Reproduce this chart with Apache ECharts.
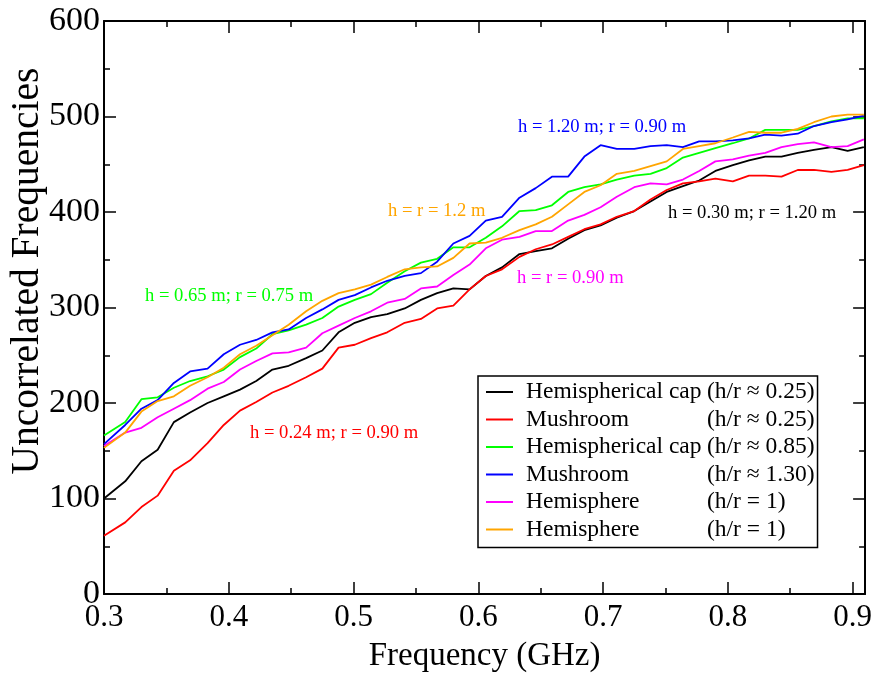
<!DOCTYPE html>
<html><head><meta charset="utf-8">
<script src="https://cdn.jsdelivr.net/npm/echarts@6/dist/echarts.min.js"></script>
<style>html,body{margin:0;padding:0;background:#fff}#c{width:875px;height:678px}</style>
</head><body><div id="c"></div>
<script>
// Frequencies (GHz)
const freq = [0.300,0.317,0.330,0.343,0.356,0.369,0.383,0.396,0.409,0.422,0.435,0.448,0.462,0.475,0.488,0.501,0.514,0.527,0.541,0.554,0.567,0.580,0.593,0.606,0.619,0.633,0.646,0.659,0.672,0.685,0.698,0.711,0.725,0.738,0.751,0.764,0.777,0.790,0.804,0.817,0.830,0.843,0.856,0.869,0.883,0.896,0.909];
const capLow   = [100,118,139,151,180,190,200,207,214,223,235,239,247,255,274,284,290,293,299,308,315,320,319,333,342,356,359,362,372,381,386,394,401,411,421,427,433,443,449,454,458,458,462,465,468,464,468];
const mushLow  = [61,75,91,103,129,140,158,177,192,201,211,218,227,236,258,261,268,274,284,288,299,302,319,333,340,353,361,366,374,382,387,395,401,413,423,430,432,435,432,438,438,437,444,444,442,444,449];
const capHigh  = [166,180,204,206,216,223,228,235,248,257,272,276,282,289,301,308,314,326,338,347,351,363,363,373,385,401,402,407,421,426,429,434,438,440,446,457,462,467,472,477,486,486,486,490,495,498,498];
const mushHigh = [157,177,194,203,221,233,236,251,261,266,274,277,289,298,308,313,321,328,333,336,348,367,375,391,395,415,425,437,437,458,470,466,466,469,470,468,474,474,475,477,481,480,482,490,494,497,501];
const hemiA    = [155,169,174,185,194,203,215,222,235,244,252,253,258,273,281,289,296,305,309,320,322,334,345,362,371,374,380,380,391,397,405,416,426,430,429,434,443,453,455,459,462,468,471,473,468,469,476];
const hemiB    = [153,169,191,202,207,218,227,237,251,260,271,282,296,307,315,319,324,332,340,342,343,352,367,368,373,381,387,395,408,421,428,440,443,448,453,466,469,472,478,484,483,483,487,494,500,502,502];

const legendNames  = ['Hemispherical cap','Mushroom','Hemispherical cap','Mushroom','Hemisphere','Hemisphere'];
const legendRatios = ['(h/r \u2248 0.25)','(h/r \u2248 0.25)','(h/r \u2248 0.85)','(h/r \u2248 1.30)','(h/r = 1)','(h/r = 1)'];
const seriesValues = [capLow, mushLow, capHigh, mushHigh, hemiA, hemiB];
const colors = ['#000000','#ff0000','#00ff00','#0000ff','#ff00ff','#ffa500'];

const annotations = [
  {text:'h = 1.20 m; r = 0.90 m', color:'#0000ff', x:518, y:128},
  {text:'h = r = 1.2 m', color:'#ffa500', x:388, y:212},
  {text:'h = 0.30 m; r = 1.20 m', color:'#000000', x:668, y:214},
  {text:'h = 0.65 m; r = 0.75 m', color:'#00ff00', x:145, y:297},
  {text:'h = r = 0.90 m', color:'#ff00ff', x:517, y:279},
  {text:'h = 0.24 m; r = 0.90 m', color:'#ff0000', x:250, y:434}
];

const FONT = 'Liberation Serif';
const chart = echarts.init(document.getElementById('c'), null, {renderer:'canvas'});

const axisCommon = {
  axisLine:{show:true, onZero:false, lineStyle:{color:'#000', width:2}},
  axisTick:{show:true, inside:true, length:12, lineStyle:{color:'#000', width:1.5}},
  minorTick:{show:true, splitNumber:2, length:6, lineStyle:{color:'#000', width:1.5}},
  splitLine:{show:false}, minorSplitLine:{show:false}
};

const series = seriesValues.map((vals, i) => ({
  name:'s'+i, type:'line', xAxisIndex:0, yAxisIndex:0,
  data: freq.map((f, j) => [f, vals[j]]),
  symbol:'none', showSymbol:false, clip:true,
  lineStyle:{color:colors[i], width:1.8}, itemStyle:{color:colors[i]},
  emphasis:{disabled:true}, animation:false
}));

const graphics = annotations.map(a => ({
  type:'text', left:a.x, top:a.y - 10.5, silent:true,
  style:{text:a.text, fill:a.color, font:'18.6px "' + FONT + '"'}
}));
graphics.push({
  type:'text', x:28, y:271, rotation:Math.PI/2, silent:true,
  style:{text:'Uncorrelated Frequencies', fill:'#000', font:'39.5px "' + FONT + '"',
    textAlign:'center', textVerticalAlign:'middle'}
});

chart.setOption({
  animation:false,
  backgroundColor:'#fff',
  color: colors,
  grid:{left:104, right:8.5, top:21, bottom:83, containLabel:false},
  xAxis:[
    Object.assign({type:'value', position:'bottom', min:0.3, max:0.91, interval:0.1,
      name:'Frequency (GHz)', nameLocation:'middle', nameGap:46,
      nameTextStyle:{fontFamily:FONT, fontSize:33, color:'#000'},
      axisLabel:{show:true, showMaxLabel:false, margin:8, fontFamily:FONT, fontSize:31, color:'#000',
        formatter: v => v.toFixed(1)}}, axisCommon),
    Object.assign({type:'value', position:'top', min:0.3, max:0.91, interval:0.1,
      axisLabel:{show:false}}, axisCommon)
  ],
  yAxis:[
    Object.assign({type:'value', position:'left', min:0, max:600, interval:100,
      axisLabel:{show:true, margin:4, fontFamily:FONT, fontSize:34, color:'#000'}}, axisCommon),
    Object.assign({type:'value', position:'right', min:0, max:600, interval:100,
      axisLabel:{show:false}}, axisCommon)
  ],
  legend:{
    show:true, orient:'vertical', left:478, top:376,
    padding:[4,3,6,8], itemGap:3.5, itemWidth:27, itemHeight:2, icon:'rect',
    borderColor:'#000', borderWidth:1.5, backgroundColor:'#fff',
    data: series.map(s => s.name),
    selectedMode:false,
    formatter: name => { const i = +name.slice(1); return '{a|' + legendNames[i] + '}{b|' + legendRatios[i] + '}'; },
    textStyle:{rich:{
      a:{fontFamily:FONT, fontSize:23.5, color:'#000', width:181, lineHeight:24, padding:[0,0,0,8]},
      b:{fontFamily:FONT, fontSize:23.5, color:'#000', lineHeight:24}
    }}
  },
  graphic: graphics,
  series: series
});
</script></body></html>
